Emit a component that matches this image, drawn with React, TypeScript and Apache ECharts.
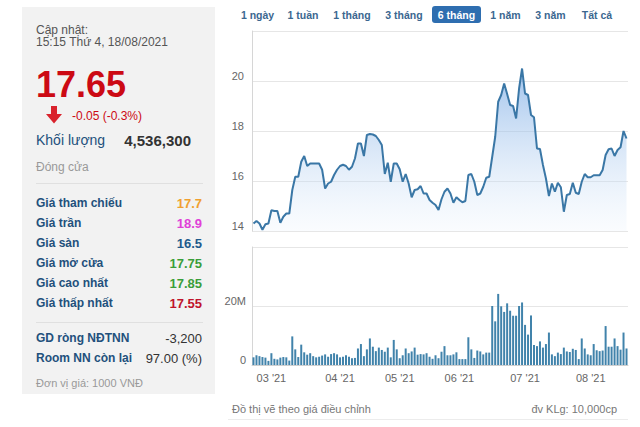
import React, { useEffect, useRef } from 'react';
import * as echarts from 'echarts';

// ---------- data ----------
const START_DATE = '2021-02-19';
const END_DATE = '2021-08-18';
const HOLIDAYS = ['2021-04-21', '2021-04-30', '2021-05-03'];

const closePrices = [
  14.3, 14.4, 14.3, 14.05, 14.27, 14.3, 14.83, 14.8, 14.8, 14.33,
  14.57, 14.7, 14.7, 15.64, 16.17, 16.17, 16.77, 17.0, 16.6, 16.7,
  16.7, 16.7, 16.7, 16.45, 15.7, 15.9, 15.97, 16.24, 16.45, 16.6,
  16.65, 16.6, 16.45, 16.57, 16.9, 17.5, 17.5, 17.0, 17.84, 17.88,
  17.86, 17.8, 17.64, 17.44, 16.28, 16.73, 15.97, 16.7, 16.7, 16.47,
  15.97, 16.28, 15.9, 15.35, 15.64, 15.67, 15.8, 15.5, 15.5, 15.24,
  15.13, 15.04, 14.84, 15.27, 15.57, 15.7, 15.5, 15.13, 15.35, 15.24,
  15.15, 15.2, 16.24, 16.28, 15.97, 15.44, 15.5, 15.77, 16.13, 16.17,
  16.97, 17.77, 19.17, 19.44, 19.9, 19.48, 19.04, 19.0, 18.5, 19.7,
  20.5, 19.5, 19.44, 18.64, 18.55, 17.3, 17.28, 16.64, 16.1, 15.4,
  15.9, 15.57, 15.93, 15.75, 14.77, 15.44, 15.48, 15.93, 15.53, 15.48,
  15.97, 16.28, 16.15, 16.15, 16.23, 16.23, 16.23, 16.44, 17.04, 17.27,
  17.3, 17.0, 17.24, 17.35, 18.0, 17.7,
];

// volume in millions of shares
const volumesM = [
  2.6, 3.3, 3.0, 2.7, 2.5, 1.4, 4.0, 2.1, 1.9, 2.5,
  2.7, 2.6, 1.5, 9.7, 5.3, 2.7, 6.9, 4.3, 3.5, 4.0,
  3.0, 2.6, 2.8, 3.2, 3.6, 2.8, 3.7, 4.0, 3.6, 2.6,
  2.8, 3.3, 2.8, 2.3, 2.4, 5.6, 7.1, 3.0, 5.3, 9.0,
  6.2, 4.7, 5.9, 5.1, 4.5, 5.9, 2.6, 8.5, 5.3, 2.3,
  3.3, 5.6, 4.0, 4.6, 5.9, 3.5, 3.7, 3.6, 4.0, 2.8,
  2.1, 3.3, 2.3, 4.5, 6.4, 3.3, 3.3, 3.6, 4.3, 2.0,
  2.0, 2.0, 9.4, 5.3, 2.4, 4.9, 4.6, 3.6, 4.2, 4.2,
  20.0, 14.8, 24.1, 19.9, 18.0, 20.9, 18.4, 16.7, 16.7, 20.0,
  21.2, 13.6, 10.3, 16.8, 6.8, 6.4, 8.0, 5.9, 7.1, 11.0,
  3.6, 3.0, 4.2, 3.7, 5.9, 4.6, 4.4, 5.5, 5.1, 2.0,
  9.0, 5.6, 3.6, 3.3, 7.1, 5.0, 4.7, 4.9, 13.2, 6.2,
  6.2, 9.0, 6.4, 5.2, 11.0, 5.6,
];

const priceAxis = { min: 14, max: 22, step: 2 };
const volumeAxis = { min: 0, max: 40, step: 20 };

const rangeButtons = ['1 ngày', '1 tuần', '1 tháng', '3 tháng', '6 tháng', '1 năm', '3 năm', 'Tất cả'];
const selectedRange = '6 tháng';

const updateLabel = 'Cập nhật:';
const updateTime = '15:15 Thứ 4, 18/08/2021';
const lastPrice = '17.65';
const priceChange = '-0.05 (-0.3%)';
const volumeLabel = 'Khối lượng';
const volumeValue = '4,536,300';
const sessionLabel = 'Đóng cửa';
const infoLabels = ['Giá tham chiếu', 'Giá trần', 'Giá sàn', 'Giá mở cửa', 'Giá cao nhất', 'Giá thấp nhất'];
const infoValues = ['17.7', '18.9', '16.5', '17.75', '17.85', '17.55'];
const foreignLabels = ['GD ròng NĐTNN', 'Room NN còn lại'];
const foreignValues = ['-3,200', '97.00 (%)'];
const unitNote = 'Đơn vị giá: 1000 VNĐ';
const chartNote = 'Đồ thị vẽ theo giá điều chỉnh';
const volumeNote = 'đv KLg: 10,000cp';

// ---------- styles ----------
const FONT = '"Liberation Sans", Arial, Helvetica, sans-serif';
const infoColors = ['#f0a030', '#e040d8', '#1e5a8c', '#3a9e3a', '#3a9e3a', '#c0142c'];
const buttonCenters = [257.5, 303, 352, 404, 456.5, 505.5, 550.5, 597];

function tradingDays(): string[] {
  const out: string[] = [];
  const [sy, sm, sd] = START_DATE.split('-').map(Number);
  const d = new Date(Date.UTC(sy, sm - 1, sd));
  const end = END_DATE;
  for (;;) {
    const iso = d.toISOString().slice(0, 10);
    if (iso > end) break;
    const wd = d.getUTCDay();
    if (wd !== 0 && wd !== 6 && !HOLIDAYS.includes(iso)) out.push(iso);
    d.setUTCDate(d.getUTCDate() + 1);
  }
  return out;
}

function txt(x: number, y: number, text: string, font: string, fill: string, align = 'left') {
  return {
    type: 'text',
    x,
    y,
    style: { text, font, fill, textAlign: align, textVerticalAlign: 'middle' },
  };
}

export default function App() {
  const ref = useRef<HTMLDivElement>(null);

  useEffect(() => {
    if (!ref.current) return;
    const chart = echarts.init(ref.current, undefined, { renderer: 'svg' });
    const dates = tradingDays();
    const monthStart = new Set<number>();
    for (let i = 1; i < dates.length; i++) {
      if (dates[i].slice(5, 7) !== dates[i - 1].slice(5, 7)) monthStart.add(i);
    }

    const graphic: any[] = [];
    // left panel
    graphic.push({ type: 'rect', shape: { x: 22, y: 7, width: 193, height: 387 }, style: { fill: '#f2f2f2' } });
    graphic.push(txt(36, 29.5, updateLabel, `12px ${FONT}`, '#555'));
    graphic.push(txt(36, 42, updateTime, `12px ${FONT}`, '#555'));
    graphic.push(txt(36, 84, lastPrice, `bold 36px ${FONT}`, '#cc0a14'));
    graphic.push({
      type: 'polygon',
      shape: { points: [[51, 106], [57, 106], [57, 114], [62, 114], [54, 123.5], [46, 114], [51, 114]] },
      style: { fill: '#d9232d' },
    });
    graphic.push(txt(72, 116, priceChange, `12px ${FONT}`, '#cc0a14'));
    graphic.push(txt(36, 140, volumeLabel, `14px ${FONT}`, '#22507c'));
    graphic.push(txt(191, 140, volumeValue, `bold 15px ${FONT}`, '#333', 'right'));
    graphic.push(txt(36, 167, sessionLabel, `12px ${FONT}`, '#999'));
    graphic.push({ type: 'line', shape: { x1: 36, y1: 183.5, x2: 203, y2: 183.5 }, style: { stroke: '#e0e0e0', lineWidth: 1 } });
    infoLabels.forEach((l, i) => {
      const y = 203 + i * 20;
      graphic.push(txt(36, y, l, `bold 12px ${FONT}`, '#22507c'));
      graphic.push(txt(202, y, infoValues[i], `bold 13px ${FONT}`, infoColors[i], 'right'));
    });
    graphic.push({ type: 'line', shape: { x1: 36, y1: 322.5, x2: 203, y2: 322.5 }, style: { stroke: '#e0e0e0', lineWidth: 1 } });
    foreignLabels.forEach((l, i) => {
      const y = 338 + i * 20;
      graphic.push(txt(36, y, l, `bold 12px ${FONT}`, '#22507c'));
      graphic.push(txt(202, y, foreignValues[i], `13px ${FONT}`, '#333', 'right'));
    });
    graphic.push(txt(36, 383, unitNote, `11px ${FONT}`, '#999'));

    // range buttons
    rangeButtons.forEach((b, i) => {
      const cx = buttonCenters[i];
      if (b === selectedRange) {
        graphic.push({ type: 'rect', shape: { x: 432, y: 6, width: 49, height: 17, r: 3 }, style: { fill: '#2e6eb0' } });
        graphic.push(txt(cx, 14.5, b, `bold 10.5px ${FONT}`, '#fff', 'center'));
      } else {
        graphic.push(txt(cx, 14.5, b, `bold 10.5px ${FONT}`, '#3b6790', 'center'));
      }
    });

    // bottom notes
    graphic.push(txt(232, 409, chartNote, `11px ${FONT}`, '#777'));
    graphic.push(txt(617, 409, volumeNote, `11px ${FONT}`, '#777', 'right'));
    graphic.push({ type: 'line', shape: { x1: 228, y1: 419.5, x2: 628, y2: 419.5 }, style: { stroke: '#ececec', lineWidth: 1 } });

    const option: any = {
      animation: false,
      backgroundColor: '#ffffff',
      textStyle: { fontFamily: FONT },
      grid: [
        { left: 252, top: 31, width: 376, height: 200 },
        { left: 252, top: 247, width: 376, height: 118 },
      ],
      xAxis: [
        { type: 'category', gridIndex: 0, data: dates, boundaryGap: true, show: false },
        {
          type: 'category',
          gridIndex: 1,
          data: dates,
          boundaryGap: true,
          axisLine: { show: true, lineStyle: { color: '#cfcfcf' } },
          axisTick: {
            alignWithLabel: true,
            length: 5,
            interval: (i: number) => monthStart.has(i),
            lineStyle: { color: '#cfcfcf' },
          },
          axisLabel: {
            interval: (i: number) => monthStart.has(i),
            formatter: (v: string) => `${v.slice(5, 7)} '${v.slice(2, 4)}`,
            color: '#666',
            fontSize: 11,
            margin: 7,
          },
        },
      ],
      yAxis: [
        {
          type: 'value',
          gridIndex: 0,
          min: priceAxis.min,
          max: priceAxis.max,
          interval: priceAxis.step,
          axisLine: { show: true, lineStyle: { color: '#d6d6d6' } },
          axisTick: { show: false },
          splitLine: { lineStyle: { color: '#e6e6e6' } },
          axisLabel: { showMaxLabel: false, color: '#666', fontSize: 11, margin: 8, verticalAlign: 'bottom' },
        },
        {
          type: 'value',
          gridIndex: 1,
          min: volumeAxis.min,
          max: volumeAxis.max,
          interval: volumeAxis.step,
          axisLine: { show: true, lineStyle: { color: '#d6d6d6' } },
          axisTick: { show: false },
          splitLine: { lineStyle: { color: '#e6e6e6' } },
          axisLabel: {
            showMaxLabel: false,
            color: '#666',
            fontSize: 11,
            margin: 6,
            verticalAlign: 'bottom',
            formatter: (v: number) => (v === 0 ? '0' : `${v}M`),
          },
        },
      ],
      series: [
        {
          type: 'line',
          xAxisIndex: 0,
          yAxisIndex: 0,
          data: closePrices,
          symbol: 'none',
          lineStyle: { color: '#3a77a6', width: 2 },
          areaStyle: {
            color: new echarts.graphic.LinearGradient(0, 0, 0, 1, [
              { offset: 0, color: 'rgba(105,160,225,0.9)' },
              { offset: 1, color: 'rgba(235,243,252,0.35)' },
            ]),
          },
        },
        {
          type: 'bar',
          xAxisIndex: 1,
          yAxisIndex: 1,
          data: volumesM,
          barWidth: 2,
          itemStyle: { color: '#4183ab' },
        },
      ],
      graphic,
    };
    chart.setOption(option);
    return () => chart.dispose();
  }, []);

  return (
    <div
      ref={ref}
      style={{ position: 'fixed', left: 0, top: 0, width: 640, height: 427, background: '#fff' }}
    />
  );
}
